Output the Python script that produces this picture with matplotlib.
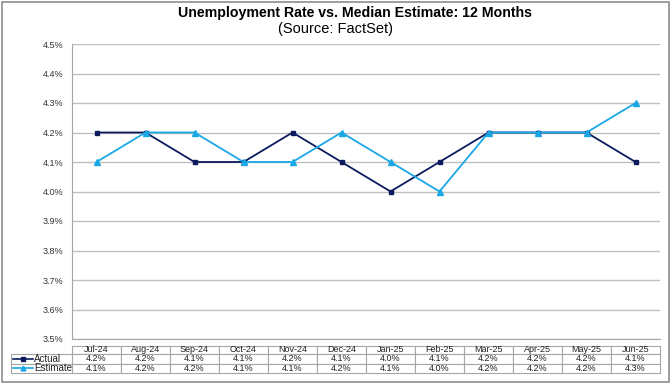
import matplotlib
matplotlib.use('Agg')
import matplotlib.pyplot as plt
from matplotlib.lines import Line2D
from matplotlib.patches import Rectangle
from matplotlib.table import Table

plt.rcParams['font.family'] = ['Liberation Sans', 'DejaVu Sans']

# === DATA ===
months = ['Jul-24', 'Aug-24', 'Sep-24', 'Oct-24', 'Nov-24', 'Dec-24',
          'Jan-25', 'Feb-25', 'Mar-25', 'Apr-25', 'May-25', 'Jun-25']
actual = [4.2, 4.2, 4.1, 4.1, 4.2, 4.1, 4.0, 4.1, 4.2, 4.2, 4.2, 4.1]
estimate = [4.1, 4.2, 4.2, 4.1, 4.1, 4.2, 4.1, 4.0, 4.2, 4.2, 4.2, 4.3]
yticks = [3.5, 3.6, 3.7, 3.8, 3.9, 4.0, 4.1, 4.2, 4.3, 4.4, 4.5]

ACTUAL_C = '#0d1b5e'
EST_C = '#1aa7e6'
GRID_C = '#bfbfbf'
EDGE_C = '#a6a6a6'

W, H = 672, 384
AX_W, AX_H = 588, 295
fig = plt.figure(figsize=(W / 100, H / 100), dpi=100)
ax = fig.add_axes([72 / W, 1 - 339 / H, AX_W / W, AX_H / H])

x = list(range(len(months)))
ax.plot(x, actual, color=ACTUAL_C, lw=1.3, marker='s', ms=3.5, zorder=3)
ax.plot(x, estimate, color=EST_C, lw=1.3, marker='^', ms=4.5, zorder=3)

ax.set_xlim(-0.5, len(months) - 0.5)
ax.set_ylim(3.5, 4.5)
ax.set_yticks(yticks)
ax.set_yticklabels([f'{v:.1f}%' for v in yticks], fontsize=6.5, color='#333333')
ax.set_xticks([])
ax.tick_params(axis='y', length=0, pad=6)
ax.grid(axis='y', color=GRID_C, lw=1)
for s in ['top', 'right']:
    ax.spines[s].set_visible(False)
for s in ['left', 'bottom']:
    ax.spines[s].set_color(EDGE_C)

# data table under the plot, sizes in axes units so the bbox scale stays 1
lab_w, col_w = 61 / AX_W, 1 / len(months)
head_h, row_h = 8 / AX_H, 9.5 / AX_H
tbl = Table(ax, bbox=[0, -34 / AX_H, 1, head_h + 2 * row_h])
for j, m in enumerate(months):
    tbl.add_cell(0, j, width=col_w, height=head_h, text=m, loc='center')
for i, series in enumerate([actual, estimate]):
    tbl.add_cell(i + 1, -1, width=lab_w, height=row_h, text='')
    for j, v in enumerate(series):
        tbl.add_cell(i + 1, j, width=col_w, height=row_h, text=f'{v:.1f}%', loc='center')
tbl.auto_set_font_size(False)
tbl.set_fontsize(6.5)
for cell in tbl.get_celld().values():
    cell.set_edgecolor(EDGE_C)
    cell.set_linewidth(0.8)
    cell.get_text().set_color('#222222')
ax.add_table(tbl)

# legend keys in the row label cells
tr = fig.transFigure
keys = [('Actual', ACTUAL_C, 's', 3), ('Estimate', EST_C, '^', 3.5)]
for i, (lbl, col, mk, ms) in enumerate(keys):
    yc = 1 - (358.5 + i * 9.5) / H
    fig.add_artist(Line2D([13 / W, 33 / W], [yc, yc], transform=tr, color=col, lw=1.2))
    fig.add_artist(Line2D([23 / W], [yc], transform=tr, color=col, marker=mk, ms=ms))
    fig.text(34 / W, yc, lbl, fontsize=7, va='center', ha='left', color='#222222')

fig.text(355 / W, 1 - 13.5 / H, 'Unemployment Rate vs. Median Estimate: 12 Months',
         ha='center', va='center', fontsize=10.2, fontweight='bold')
fig.text(335.5 / W, 1 - 29.5 / H, '(Source: FactSet)', ha='center', va='center', fontsize=10.5)

# outer frame
fig.add_artist(Rectangle((2 / W, 2 / H), 667 / W, 380 / H, transform=tr,
                         fill=False, edgecolor='#8c8c8c', lw=1.2))

fig.savefig('out.png', dpi=100)
